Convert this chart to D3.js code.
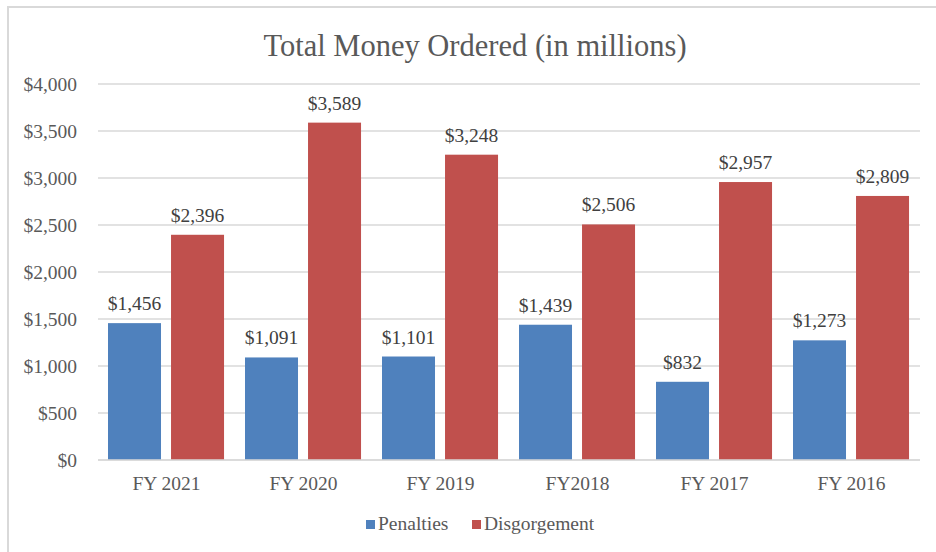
<!DOCTYPE html>
<html>
<head>
<meta charset="utf-8">
<script src="https://cdn.jsdelivr.net/npm/d3@7/dist/d3.min.js"></script>
<style>
  html, body { margin: 0; padding: 0; background: #fff; }
  svg { display: block; }
  svg text { font-family: "Liberation Serif", "Times New Roman", serif !important; }
</style>
</head>
<body>
<svg id="chart" width="936" height="552"></svg>
<script>
const categories = ["FY 2021", "FY 2020", "FY 2019", "FY2018", "FY 2017", "FY 2016"];
const seriesNames = ["Penalties", "Disgorgement"];
const penalties = [1456, 1091, 1101, 1439, 832, 1273];
const disgorgement = [2396, 3589, 3248, 2506, 2957, 2809];
const yTicks = [0, 500, 1000, 1500, 2000, 2500, 3000, 3500, 4000];
const colors = ["#4F81BD", "#C0504D"];
const titleText = "Total Money Ordered (in millions)";

(function () {
const svg = d3.select("#chart");
const W = 936, H = 552;
const FS = 19.5;

// frame (top + left border visible)
svg.append("rect").attr("x", 8).attr("y", 7).attr("width", W + 10).attr("height", H + 10)
  .attr("fill", "#fff").attr("stroke", "#d9d9d9").attr("stroke-width", 2);

const mLeft = 98, mRight = 920, mTop = 84, mBottom = 460;

const x0 = d3.scaleBand().domain(categories).range([mLeft, mRight]).padding(0);
const x1 = d3.scaleBand().domain(seriesNames)
  .range([x0.bandwidth() * 0.073, x0.bandwidth() * 0.92])
  .paddingInner(0.159).paddingOuter(0);
const y = d3.scaleLinear().domain([0, 4000]).range([mBottom, mTop]);

const fmt = d => "$" + d3.format(",")(d);

// gridlines
svg.append("g").selectAll("line").data(yTicks).join("line")
  .attr("x1", mLeft).attr("x2", mRight)
  .attr("y1", d => y(d)).attr("y2", d => y(d))
  .attr("stroke", "#d9d9d9").attr("stroke-width", 1.3);

// y axis labels
const yAxis = d3.axisLeft(y).tickValues(yTicks).tickFormat(fmt).tickSize(0).tickPadding(0);
const yg = svg.append("g").attr("transform", `translate(${mLeft - 21},0)`).call(yAxis);
yg.select(".domain").remove();
yg.selectAll("text").attr("font-size", FS).attr("fill", "#595959");

// bars
const data = categories.map((c, i) => ({ cat: c, vals: [
  { s: seriesNames[0], v: penalties[i], c: colors[0] },
  { s: seriesNames[1], v: disgorgement[i], c: colors[1] }
]}));

const groups = svg.append("g").selectAll("g").data(data).join("g")
  .attr("transform", d => `translate(${x0(d.cat)},0)`);

groups.selectAll("rect").data(d => d.vals).join("rect")
  .attr("x", d => x1(d.s)).attr("width", x1.bandwidth())
  .attr("y", d => y(d.v)).attr("height", d => y(0) - y(d.v))
  .attr("fill", d => d.c);

groups.selectAll("text").data(d => d.vals).join("text")
  .attr("x", d => x1(d.s) + x1.bandwidth() / 2)
  .attr("y", d => y(d.v) - 13)
  .attr("text-anchor", "middle")
  .attr("font-size", FS).attr("fill", "#404040")
  .text(d => fmt(d.v));

// baseline
svg.append("line").attr("x1", mLeft).attr("x2", mRight)
  .attr("y1", y(0)).attr("y2", y(0)).attr("stroke", "#d9d9d9").attr("stroke-width", 1.5);

// x axis labels
const xAxis = d3.axisBottom(x0).tickSize(0).tickPadding(0);
const xg = svg.append("g").attr("transform", `translate(0,${mBottom + 16})`).call(xAxis);
xg.select(".domain").remove();
xg.selectAll("text").attr("font-size", FS).attr("fill", "#595959");

// title
svg.append("text").attr("x", 475).attr("y", 56).attr("text-anchor", "middle")
  .attr("font-size", 30.5).attr("fill", "#595959").text(titleText);

// legend
const legendItems = [
  { name: seriesNames[0], color: colors[0], x: 366 },
  { name: seriesNames[1], color: colors[1], x: 472 }
];
const lg = svg.append("g").selectAll("g").data(legendItems).join("g")
  .attr("transform", d => `translate(${d.x},520)`);
lg.append("rect").attr("width", 9).attr("height", 9).attr("fill", d => d.color);
lg.append("text").attr("x", 12).attr("y", 9.5).attr("font-size", FS).attr("fill", "#595959")
  .text(d => d.name);
})();
</script>
</body>
</html>
